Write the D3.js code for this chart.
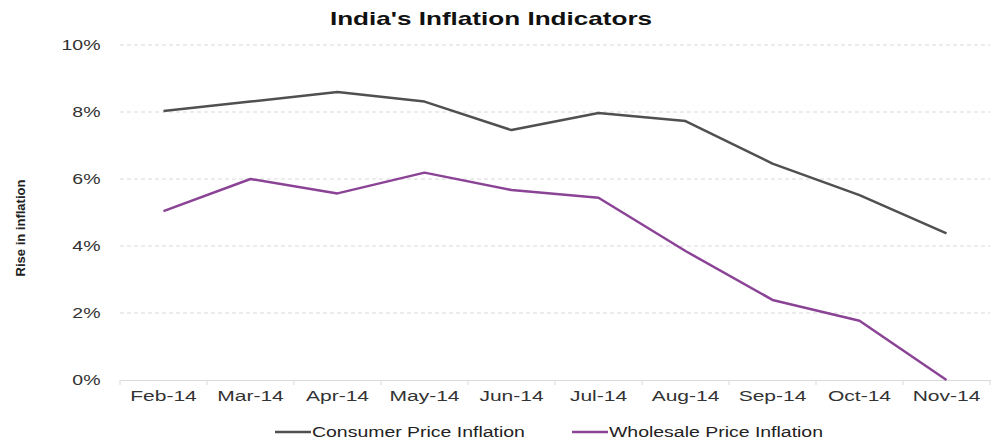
<!DOCTYPE html>
<html><head><meta charset="utf-8">
<script src="https://cdn.jsdelivr.net/npm/d3@7"></script>
<style>body{margin:0;background:#fff;}svg{display:block;font-family:"Liberation Sans",Arial,sans-serif;}</style>
</head><body><svg id="c" width="999" height="443"></svg>
<script>
const categories = ["Feb-14","Mar-14","Apr-14","May-14","Jun-14","Jul-14","Aug-14","Sep-14","Oct-14","Nov-14"];
const cpiValues = [8.03, 8.31, 8.60, 8.31, 7.46, 7.97, 7.73, 6.46, 5.52, 4.38];
const wpiValues = [5.04, 6.00, 5.57, 6.19, 5.67, 5.44, 3.85, 2.39, 1.77, 0.00];
const yTicks = [0, 2, 4, 6, 8, 10];
const seriesNames = ["Consumer Price Inflation", "Wholesale Price Inflation"];
const colors = ["#505050", "#8b4396"];

const svg = d3.select("#c");
const m = {left: 120, right: 9, top: 45, bottom: 63};
const W = 999, H = 443;
const x = d3.scaleBand().domain(categories).range([m.left, W - m.right]);
const y = d3.scaleLinear().domain([0, 10]).range([H - m.bottom, m.top]);

// grid
svg.append("g").selectAll("line").data(yTicks.filter(d => d > 0)).join("line")
  .attr("x1", m.left).attr("x2", W - m.right)
  .attr("y1", d => y(d)).attr("y2", d => y(d))
  .attr("stroke", "#d9d9d9").attr("stroke-dasharray", "4,3").attr("stroke-width", 1);

// y axis labels
const ya = svg.append("g").attr("transform", `translate(${m.left},0)`)
  .call(d3.axisLeft(y).tickValues(yTicks).tickFormat(d => d + "%").tickSize(0).tickPadding(15));
ya.select(".domain").remove();
ya.selectAll("text").attr("font-size", 15).attr("fill", "#333")
  .attr("font-family", "Liberation Sans, Arial, sans-serif").attr("transform", "scale(1.3,1)");

// x axis
const xa = svg.append("g").attr("transform", `translate(0,${y(0)})`)
  .call(d3.axisBottom(x).tickSize(0).tickPadding(11));
xa.select(".domain").attr("stroke", "#d9d9d9");
xa.selectAll("text").attr("font-size", 14.5).attr("fill", "#333")
  .attr("font-family", "Liberation Sans, Arial, sans-serif").attr("transform", "scale(1.45,1)");
xa.append("g").selectAll("line").data(d3.range(categories.length + 1)).join("line")
  .attr("x1", i => m.left + i * x.step()).attr("x2", i => m.left + i * x.step())
  .attr("y1", 0).attr("y2", 5).attr("stroke", "#d9d9d9");

// lines
const line = d3.line().x((d, i) => x(categories[i]) + x.bandwidth() / 2).y(d => y(d));
[cpiValues, wpiValues].forEach((vals, k) => {
  svg.append("path").datum(vals).attr("d", line).attr("fill", "none")
    .attr("stroke", colors[k]).attr("stroke-width", 2.5).attr("stroke-linejoin", "round");
});

// title
svg.append("text").attr("transform", "translate(491,25) scale(1.45,1)").attr("text-anchor", "middle")
  .attr("font-size", 18).attr("font-weight", "bold").attr("fill", "#111").text("India's Inflation Indicators");

// y label
svg.append("text").attr("transform", "translate(25,228) rotate(-90)").attr("text-anchor", "middle")
  .attr("font-size", 13).attr("font-weight", "bold").attr("fill", "#222")
  .attr("font-family", "Liberation Sans Narrow, Arial Narrow, sans-serif").text("Rise in inflation");

// legend
const lx = [275, 572];
seriesNames.forEach((n, k) => {
  const g = svg.append("g").attr("transform", `translate(${lx[k]},432)`);
  g.append("line").attr("x1", 0).attr("x2", 36).attr("y1", 0).attr("y2", 0).attr("stroke", colors[k]).attr("stroke-width", 2.5);
  g.append("text").attr("transform", "translate(37,5) scale(1.39,1)").attr("font-size", 14).attr("fill", "#222").text(n);
});
</script></body></html>
